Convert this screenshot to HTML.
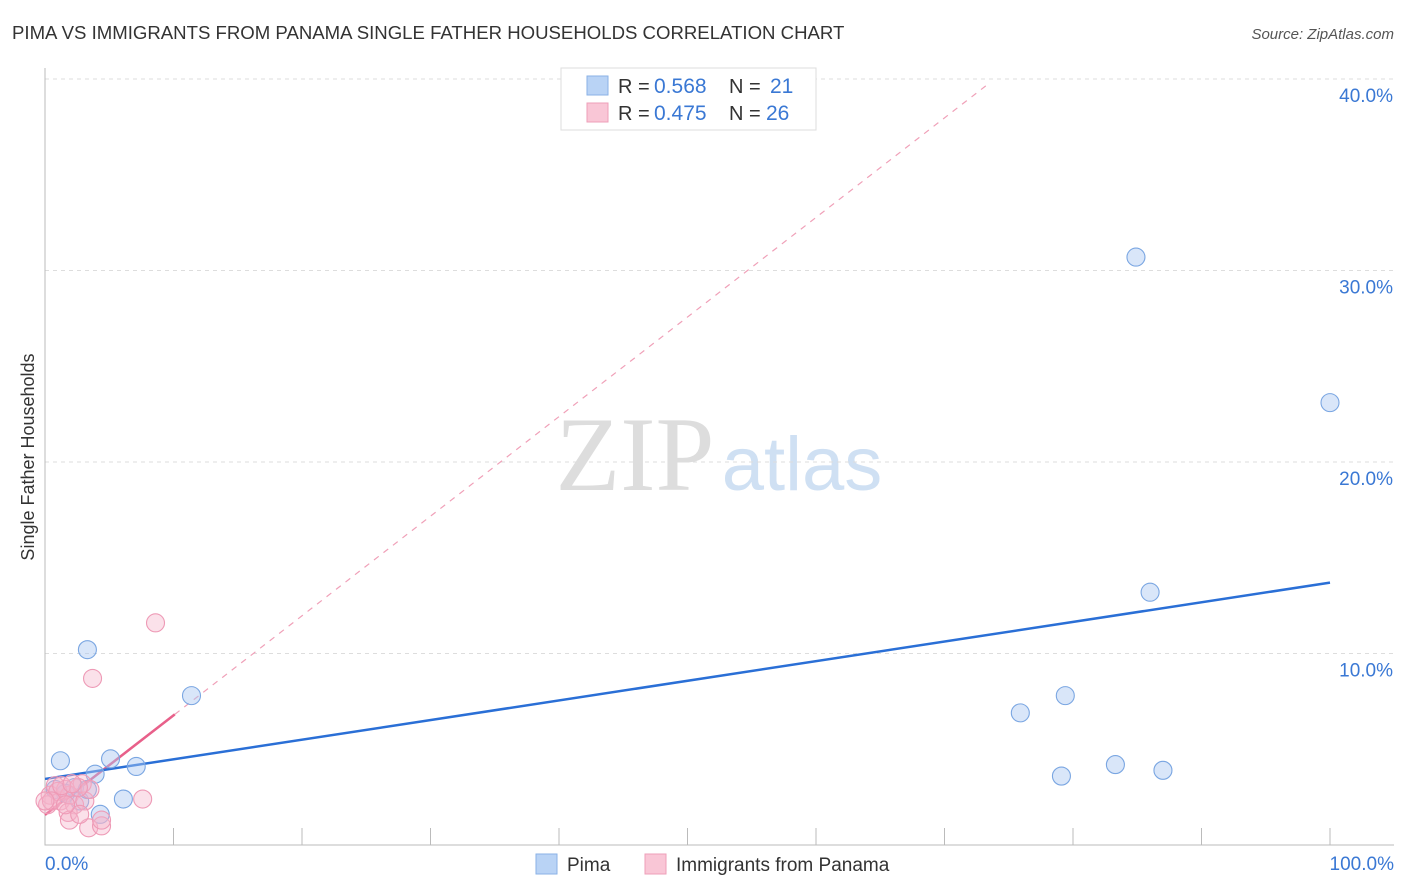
<!DOCTYPE html>
<html><head><meta charset="utf-8"><style>
body{margin:0;background:#fff;font-family:"Liberation Sans",sans-serif}
svg{display:block}
</style></head><body>
<svg id="chart" width="1406" height="892">
<text x="12" y="39" font-size="18.6" fill="#333">PIMA VS IMMIGRANTS FROM PANAMA SINGLE FATHER HOUSEHOLDS CORRELATION CHART</text>
<text x="1394" y="39" font-size="15" fill="#555" text-anchor="end" font-style="italic">Source: ZipAtlas.com</text>
<text transform="translate(34,457) rotate(-90)" font-size="18" fill="#333" text-anchor="middle">Single Father Households</text>
<g>
<text x="635" y="490" font-size="106" fill="#ddd" font-family="Liberation Serif,serif" text-anchor="middle">ZIP</text>
<text x="802" y="490" font-size="76" fill="#cfe0f3" text-anchor="middle">atlas</text>
</g>
<g id="grid"></g><g id="axes"></g><g id="trend"></g><g id="points"></g>
<g>
<rect x="561" y="68" width="255" height="62" fill="#fff" stroke="#ddd"/>
<rect x="587" y="76" width="21" height="19" fill="#b9d3f5" stroke="#8ab2e6"/>
<text x="618" y="93" font-size="20" fill="#333">R =</text>
<text x="654" y="93" font-size="21" fill="#3a78d4">0.568</text>
<text x="729" y="93" font-size="20" fill="#333">N =</text>
<text x="770" y="93" font-size="21" fill="#3a78d4">21</text>
<rect x="587" y="103" width="21" height="19" fill="#f9c6d6" stroke="#ee9fb8"/>
<text x="618" y="120" font-size="20" fill="#333">R =</text>
<text x="654" y="120" font-size="21" fill="#3a78d4">0.475</text>
<text x="729" y="120" font-size="20" fill="#333">N =</text>
<text x="766" y="120" font-size="21" fill="#3a78d4">26</text>
</g>
<g>
<rect x="536" y="854" width="21" height="20" fill="#b9d3f5" stroke="#8ab2e6"/>
<text x="567" y="871" font-size="19" fill="#333">Pima</text>
<rect x="645" y="854" width="21" height="20" fill="#f9c6d6" stroke="#ee9fb8"/>
<text x="676" y="871" font-size="19" fill="#333">Immigrants from Panama</text>
</g>
</svg>
<script>
const yTicks=[10,20,30,40];
const yTickLabels=["10.0%","20.0%","30.0%","40.0%"];
const pimaX=[3.3,11.4,1.2,5.1,7.1,3.9,2.3,6.1,4.3,2.7,0.8,84.9,100,86,75.9,79.4,79.1,83.3,87,1.6,3.3];
const pimaY=[10.2,7.8,4.4,4.5,4.1,3.7,3.0,2.4,1.6,2.3,2.9,30.7,23.1,13.2,6.9,7.8,3.6,4.2,3.9,2.7,2.9];
const panX=[8.6,3.7,7.6,2.9,0.4,0.8,0.2,1.2,1.6,1.9,2.3,3.1,1.8,1.9,3.4,4.4,4.4,3.5,2.6,1.0,0.5,1.3,2.1,2.7,0,1.6];
const panY=[11.6,8.7,2.4,3.2,2.6,3.1,2.1,2.3,2.9,2.6,2.1,2.3,1.7,1.3,0.9,1.0,1.3,2.9,3.0,2.8,2.3,3.1,3.2,1.6,2.3,2.1];
const pimaTrend=[3.45,13.7];
const panTrend=[1.57,0.52];
const X=v=>45+v*12.85, Y=v=>845-v*19.15;
const NS="http://www.w3.org/2000/svg";
function mk(tag,attrs,parent){const e=document.createElementNS(NS,tag);for(const k in attrs)e.setAttribute(k,attrs[k]);document.getElementById(parent).appendChild(e);return e;}
yTicks.forEach((t,i)=>{
 const g=mk('line',{x1:45,x2:1394,y1:Y(t),y2:Y(t),stroke:'#ddd','stroke-dasharray':'4,4'},'grid');
 
 
 const l=mk('text',{x:1393,y:Y(t)+23,'font-size':19,fill:'#3a78d4','text-anchor':'end'},'grid');
 l.textContent=yTickLabels[i];
 
 
});
const ax=mk('path',{d:'M45,68V845H1394',fill:'none',stroke:'#bbb'},'axes');


for(let i=0;i<=10;i++){
 const t=mk('line',{x1:X(i*10),x2:X(i*10),y1:828,y2:845,stroke:'#bbb'},'axes');
 
 
}
[["0.0%",45,'start'],["100.0%",1394,'end']].forEach(a=>{
 const t=mk('text',{x:a[1],y:870,'font-size':19,fill:'#3a78d4','text-anchor':a[2]},'axes');t.textContent=a[0];
 
 
});
const pd=mk('line',{x1:X(10.1),y1:Y(panTrend[0]+panTrend[1]*10.1),x2:X(73.5),y2:Y(panTrend[0]+panTrend[1]*73.5),stroke:'#f0a0b8','stroke-width':1.2,'stroke-dasharray':'6,6'},'trend');


const pt=mk('line',{x1:X(0),y1:Y(panTrend[0]),x2:X(10.1),y2:Y(panTrend[0]+panTrend[1]*10.1),stroke:'#e8608a','stroke-width':2.5},'trend');


const bt=mk('line',{x1:X(0),y1:Y(pimaTrend[0]),x2:X(100),y2:Y(pimaTrend[1]),stroke:'#2a6fd6','stroke-width':2.5},'trend');


pimaX.forEach((x,i)=>{
 const c=mk('circle',{cx:X(x),cy:Y(pimaY[i]),r:9,fill:'rgba(170,200,242,0.45)',stroke:'#7aa6e2','stroke-width':1.1},'points');
 
 
});
panX.forEach((x,i)=>{
 const c=mk('circle',{cx:X(x),cy:Y(panY[i]),r:9,fill:'rgba(246,180,202,0.4)',stroke:'#ee9ab6','stroke-width':1.1},'points');
 
 
});
</script>
</body></html>
